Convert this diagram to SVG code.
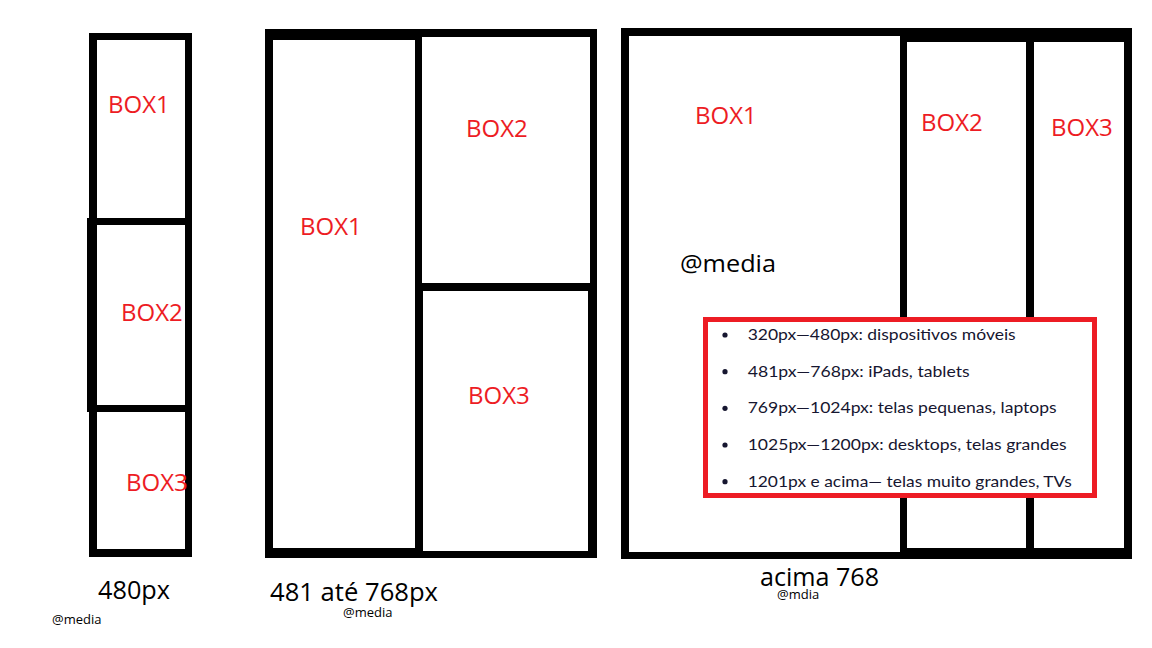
<svg xmlns="http://www.w3.org/2000/svg" width="1152" height="648" viewBox="0 0 1152 648">
<style>
.frame{fill:#000}
.box{fill:#fff}
.lbl{font-family:"Open Sans","Noto Sans",sans-serif;font-size:24px;fill:#ed1c24}
.cap{font-family:"Open Sans","Noto Sans",sans-serif;font-size:25px;fill:#000}
.sm{font-family:"Open Sans","Noto Sans",sans-serif;font-size:13px;fill:#000}
.li{font-family:Lato,"Open Sans",sans-serif;font-size:16px;fill:#161630}
.dot{fill:#161630}
</style>
<rect x="0" y="0" width="1152" height="648" fill="#fff"/>

<g id="panel-480">
  <g id="p1-frame" class="frame">
    <rect x="89" y="33" width="103" height="524"/>
    <rect x="87" y="218" width="10" height="194"/>
  </g>
  <g id="p1-box1"><rect class="box" x="97" y="40" width="88" height="178"/><text class="lbl" x="108" y="113">BOX1</text></g>
  <g id="p1-box2"><rect class="box" x="97" y="225" width="88" height="180"/><text class="lbl" x="121" y="321">BOX2</text></g>
  <g id="p1-box3"><rect class="box" x="97" y="412" width="88" height="137"/><text class="lbl" x="126" y="491">BOX3</text></g>
  <text class="cap" x="98" y="599" textLength="72" lengthAdjust="spacingAndGlyphs">480px</text>
  <text class="sm" x="52" y="624">@media</text>
</g>

<g id="panel-481-768">
  <rect id="p2-frame" class="frame" x="265" y="29" width="332" height="529"/>
  <g id="p2-box1"><rect class="box" x="273" y="40" width="142" height="508"/><text class="lbl" x="300" y="235">BOX1</text></g>
  <g id="p2-box2"><rect class="box" x="422" y="37" width="168" height="246"/><text class="lbl" x="466" y="137">BOX2</text></g>
  <g id="p2-box3"><rect class="box" x="423" y="291" width="165" height="260"/><text class="lbl" x="468" y="404">BOX3</text></g>
  <text class="cap" x="270" y="601" textLength="168" lengthAdjust="spacingAndGlyphs">481 até 768px</text>
  <text class="sm" x="343" y="617">@media</text>
</g>

<g id="panel-acima-768">
  <rect id="p3-frame" class="frame" x="621" y="28" width="511" height="531"/>
  <g id="p3-box1"><rect class="box" x="629" y="36" width="271" height="516"/><text class="lbl" x="695" y="124">BOX1</text>
    <text x="680" y="272" font-family="Open Sans, Noto Sans, sans-serif" font-size="24" fill="#000" textLength="96" lengthAdjust="spacingAndGlyphs">@media</text></g>
  <g id="p3-box2"><rect class="box" x="907" y="42" width="119" height="506"/><text class="lbl" x="921" y="131">BOX2</text></g>
  <g id="p3-box3"><rect class="box" x="1034" y="42" width="90" height="506"/><text class="lbl" x="1051" y="136">BOX3</text></g>
  <text class="cap" x="760" y="586" textLength="119" lengthAdjust="spacingAndGlyphs">acima 768</text>
  <text class="sm" x="777" y="599">@mdia</text>
</g>

<g id="media-list">
  <rect x="705.5" y="319.5" width="389" height="176" fill="#fff" stroke="#ed1c24" stroke-width="5"/>
  <circle class="dot" cx="725" cy="335" r="2.6"/>
  <circle class="dot" cx="725" cy="371.7" r="2.6"/>
  <circle class="dot" cx="725" cy="408.3" r="2.6"/>
  <circle class="dot" cx="725" cy="445" r="2.6"/>
  <circle class="dot" cx="725" cy="481.7" r="2.6"/>
  <text class="li" x="747.7" y="340" textLength="268" lengthAdjust="spacingAndGlyphs">320px—480px: dispositivos móveis</text>
  <text class="li" x="747.7" y="376.7" textLength="222" lengthAdjust="spacingAndGlyphs">481px—768px: iPads, tablets</text>
  <text class="li" x="747.7" y="413.3" textLength="309" lengthAdjust="spacingAndGlyphs">769px—1024px: telas pequenas, laptops</text>
  <text class="li" x="747.7" y="450" textLength="319" lengthAdjust="spacingAndGlyphs">1025px—1200px: desktops, telas grandes</text>
  <text class="li" x="747.7" y="486.7" textLength="324" lengthAdjust="spacingAndGlyphs">1201px e acima— telas muito grandes, TVs</text>
</g>
</svg>
